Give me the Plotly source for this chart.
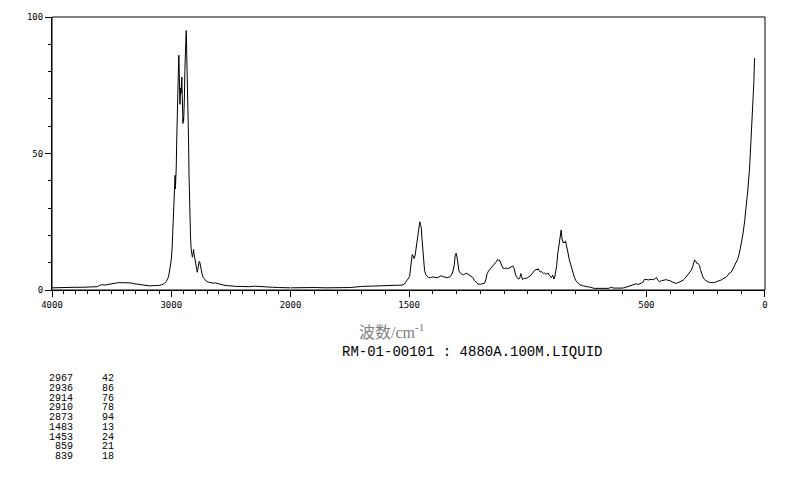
import plotly.graph_objects as go

# ---------------- data ----------------
wavenumber = [
    4000, 3950, 3900, 3850, 3800, 3750, 3700, 3650, 3620, 3600, 3580, 3560, 3540, 3520, 3500,
    3470, 3440, 3400, 3370, 3340, 3310, 3280, 3250, 3220, 3200, 3180, 3150, 3120, 3100, 3080,
    3060, 3045, 3030, 3020, 3010, 3000, 2993, 2987, 2982, 2977, 2972, 2968, 2965, 2962, 2958,
    2954, 2950, 2946, 2942, 2938, 2936, 2933, 2930, 2927, 2924, 2920, 2917, 2914, 2911, 2908,
    2905, 2902, 2899, 2896, 2893, 2890, 2886, 2882, 2878, 2875, 2873, 2870, 2867, 2864, 2861,
    2858, 2855, 2851, 2847, 2843, 2838, 2833, 2828, 2823, 2818, 2813, 2808, 2803, 2798, 2792,
    2786, 2782, 2777, 2771, 2766, 2760, 2754, 2748, 2740, 2730, 2720, 2705, 2690, 2670, 2650,
    2630, 2610, 2590, 2560, 2530, 2500, 2450, 2400, 2350, 2300, 2250, 2200, 2150, 2100, 2050,
    2000, 1950, 1900, 1850, 1800, 1750, 1700, 1650, 1600, 1560, 1530, 1520, 1512, 1505, 1498,
    1494, 1491, 1487, 1483, 1479, 1475, 1470, 1466, 1462, 1458, 1455, 1452, 1449, 1446, 1442,
    1438, 1435, 1430, 1424, 1418, 1410, 1400, 1390, 1380, 1370, 1365, 1358, 1350, 1340, 1330,
    1322, 1316, 1310, 1306, 1302, 1298, 1294, 1290, 1285, 1278, 1270, 1262, 1255, 1248, 1240,
    1232, 1225, 1217, 1210, 1200, 1190, 1182, 1176, 1171, 1165, 1160, 1153, 1147, 1141, 1136,
    1131, 1127, 1123, 1119, 1115, 1110, 1105, 1098, 1091, 1084, 1077, 1070, 1063, 1058, 1054,
    1050, 1045, 1040, 1037, 1033, 1029, 1026, 1022, 1018, 1012, 1006, 1000, 993, 985, 978,
    971, 965, 960, 957, 952, 947, 943, 938, 933, 929, 924, 918, 914, 908, 903,
    900, 895, 890, 886, 882, 878, 874, 870, 866, 862, 859, 856, 853, 850, 847,
    844, 841, 838, 835, 831, 826, 820, 816, 812, 808, 803, 797, 790, 782, 770,
    760, 750, 740, 730, 720, 700, 680, 660, 650, 645, 640, 625, 610, 600, 590,
    580, 570, 560, 550, 543, 535, 525, 515, 508, 500, 490, 480, 470, 462, 458,
    452, 444, 437, 430, 422, 416, 408, 400, 390, 380, 374, 368, 360, 353, 345,
    338, 332, 325, 318, 311, 305, 300, 297, 294, 291, 287, 283, 279, 276, 272,
    268, 262, 255, 248, 241, 234, 227, 220, 212, 205, 198, 191, 184, 177, 170,
    163, 156, 149, 142, 135, 128, 121, 114, 107, 100, 93, 86, 79, 72, 65,
    58, 54, 51, 47, 44,
]
intensity = [
    0.8, 0.9, 0.9, 1.0, 1.0, 1.0, 1.0, 1.1, 1.2, 1.7, 2.0, 1.8, 1.9, 2.0, 2.3,
    2.5, 2.7, 2.7, 2.7, 2.6, 2.3, 2.1, 1.9, 1.7, 1.8, 1.5, 1.6, 1.6, 1.7, 1.9,
    2.3, 3.0, 4.0, 5.5, 8, 11, 15, 22, 28, 33, 36, 42, 37, 40, 45,
    55, 65, 78, 80, 84, 86, 79, 74, 68, 71, 74, 72, 76, 78, 72,
    66, 61, 63, 62, 64, 70, 80, 88, 91, 95, 94, 86, 80, 78, 77,
    70, 55, 42, 32, 24, 19, 15, 13, 12, 13, 14.8, 13, 11.5, 10, 8.5,
    7, 6.5, 7.5, 9, 10.5, 10, 8.5, 7, 5.5, 4.5, 3.8, 3.2, 2.9, 2.6, 2.5,
    2.6, 2.3, 2.0, 1.8, 1.6, 1.4, 1.3, 1.3, 1.2, 1.4, 1.2, 1.1, 1.0, 0.9, 0.8,
    0.8, 0.9, 0.9, 0.8, 0.8, 0.9, 1.3, 1.4, 1.5, 1.6, 1.8, 2.2, 3.0, 4, 5,
    8, 11, 13, 12.5, 11.5, 12.5, 15.7, 19, 21, 24, 25, 24, 23, 19, 13.5,
    9, 7.2, 5.6, 5, 4.6, 4.5, 4.8, 4.6, 4.5, 5, 5.2, 4.9, 4.6, 4.5, 4.7,
    5.5, 6.6, 9, 12.5, 13.5, 12, 9, 7, 6.3, 5.8, 5.6, 6.1, 6, 5.6, 5.2,
    4.6, 3.5, 2.7, 2.2, 2.1, 2.2, 2.5, 4, 6, 7, 7.5, 8, 8.5, 9.3, 10,
    10.5, 11.2, 10.8, 11, 10.3, 9, 8, 7.9, 8, 7.8, 8.2, 8.3, 8.8, 8, 6.5,
    5.2, 4.5, 4.3, 4.0, 4.6, 6, 5, 3.8, 4.1, 4.3, 4.2, 4.6, 5, 5.5, 6.5,
    7.2, 7.6, 7.3, 7.8, 7.2, 6.6, 6.8, 6.3, 6, 6.2, 5.8, 5.9, 6.2, 5.3, 5.0,
    4.5, 5.5, 4, 4.8, 6.5, 9, 13, 16, 18.7, 20.5, 22, 19, 18, 17.2, 17.6,
    17.3, 18, 17, 15, 13.9, 11.5, 9.5, 8.5, 7, 5.6, 4.5, 3.4, 2.6, 2.0, 1.6,
    1.3, 1.2, 1.1, 0.8, 0.6, 0.6, 0.5, 0.6, 0.9, 1.0, 0.7, 0.6, 0.5, 0.7, 0.9,
    1.2, 1.5, 1.9, 2.1, 2.3, 2.0, 2.4, 2.8, 3.9, 3.8, 3.7, 3.9, 3.8, 4.2, 4.6,
    3.6, 3.0, 3.4, 3.6, 3.9, 3.8, 3.5, 3.4, 2.9, 2.5, 2.4, 2.6, 2.9, 3.1, 3.6,
    4.2, 4.8, 5.5, 6.2, 7.2, 8.5, 10, 11, 10.8, 10.2, 9.7, 9.8, 9.5, 9, 7.5,
    6, 4.8, 3.8, 3.3, 3.0, 2.8, 2.7, 2.7, 2.8, 3.0, 3.2, 3.4, 3.7, 4.1, 4.4,
    4.8, 5.5, 6.3, 6.6, 7.8, 8.8, 9.7, 11.5, 13.9, 17, 20.5, 25, 30.2, 37, 44.7,
    56.8, 62, 67.6, 76, 85,
]

peak_wavenumbers = [2967, 2936, 2914, 2910, 2873, 1483, 1453, 859, 839]
peak_intensities = [42, 86, 76, 78, 94, 13, 24, 21, 18]

x_ticks_high = [4000, 3000]
x_ticks_low = [2000, 1500, 500, 0]
y_ticks = [0, 50, 100]

x_title = "波数/cm<sup>-1</sup>"
sample_title = "RM-01-00101 : 4880A.100M.LIQUID"

# ---------------- figure ----------------
split = 2000
hi_x = [w for w in wavenumber if w >= split]
hi_y = [v for w, v in zip(wavenumber, intensity) if w >= split]
lo_x = [w for w in wavenumber if w <= split]
lo_y = [v for w, v in zip(wavenumber, intensity) if w <= split]

line = dict(color="black", width=1)
fig = go.Figure()
fig.add_trace(go.Scatter(x=hi_x, y=hi_y, mode="lines", line=line, xaxis="x", yaxis="y",
                         hoverinfo="x+y", showlegend=False))
fig.add_trace(go.Scatter(x=lo_x, y=lo_y, mode="lines", line=line, xaxis="x2", yaxis="y",
                         hoverinfo="x+y", showlegend=False))

tickfont = dict(family="DejaVu Sans Mono", size=9, color="black")
minor_x = dict(ticks="outside", ticklen=3, tickcolor="black", tickwidth=1, tick0=0, dtick=100,
               showgrid=False)
common_x = dict(showgrid=False, zeroline=False, showline=True, linecolor="black", linewidth=1,
                ticks="outside", ticklen=6, tickcolor="black", tickwidth=1, tickfont=tickfont,
                tickmode="array", minor=minor_x, anchor="y")

split_frac = 0.3345
fig.update_layout(
    width=794, height=482, autosize=False,
    margin=dict(l=52, r=29, t=15, b=192, pad=0),
    paper_bgcolor="white", plot_bgcolor="white",
    xaxis=dict(domain=[0, split_frac], range=[4000, 2000], tickvals=x_ticks_high,
               ticktext=[str(v) for v in x_ticks_high], **common_x),
    xaxis2=dict(domain=[split_frac, 1], range=[2000, 0], tickvals=x_ticks_low,
                ticktext=[str(v) for v in x_ticks_low], **common_x),
    yaxis=dict(range=[0, 100], tickmode="array", tickvals=y_ticks,
               ticktext=[str(v) for v in y_ticks], showgrid=False, zeroline=False,
               showline=True, linecolor="black", linewidth=1, ticks="outside", ticklen=6,
               tickcolor="black", tickfont=tickfont,
               minor=dict(ticks="outside", ticklen=3, tickcolor="black", dtick=10, tick0=0,
                          showgrid=False)),
    shapes=[dict(type="rect", xref="paper", yref="paper", x0=0, x1=1, y0=0, y1=1,
                 line=dict(color="black", width=1), fillcolor="rgba(0,0,0,0)", layer="above")],
)

plot_w = 794 - 52 - 29
plot_h = 482 - 15 - 192


def px_to_paper_x(px):
    return (px - 52) / plot_w


def py_to_paper_y(py):
    return (290 - py) / plot_h


annotations = [
    dict(text=x_title, x=px_to_paper_x(391), y=py_to_paper_y(331), xref="paper", yref="paper",
         xanchor="center", yanchor="middle", showarrow=False,
         font=dict(family="Liberation Serif, Noto Sans CJK SC", size=16, color="#808080")),
    dict(text=sample_title, x=px_to_paper_x(472), y=py_to_paper_y(352), xref="paper",
         yref="paper", xanchor="center", yanchor="middle", showarrow=False,
         font=dict(family="Liberation Mono", size=14, color="black")),
]

# peak list: base font 7.5px gives a 9.75px line pitch; inner span enlarges the glyphs
listfont = dict(family="Liberation Mono", size=7.5, color="black")
col_wn = "<br>".join('<span style="font-size:10px">%d</span>' % w for w in peak_wavenumbers)
col_int = "<br>".join('<span style="font-size:10px">%d</span>' % v for v in peak_intensities)
list_top = py_to_paper_y(372)
annotations.append(dict(text=col_wn, x=px_to_paper_x(75), y=list_top, xref="paper",
                        yref="paper", xanchor="right", yanchor="top", align="right",
                        showarrow=False, font=listfont))
annotations.append(dict(text=col_int, x=px_to_paper_x(116), y=list_top, xref="paper",
                        yref="paper", xanchor="right", yanchor="top", align="right",
                        showarrow=False, font=listfont))
fig.update_layout(annotations=annotations)

fig.write_html("out.html", config={"displayModeBar": False},
               post_script="document.body.style.margin='0px';")
